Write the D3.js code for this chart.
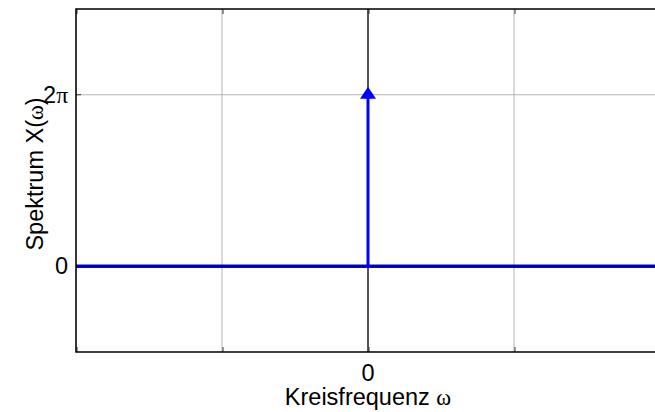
<!DOCTYPE html>
<html><head><meta charset="utf-8">
<script src="https://cdn.jsdelivr.net/npm/d3@7"></script>
<style>body{margin:0;background:#fff}svg{display:block}</style>
</head><body><svg id="c" width="655" height="412"></svg>
<script>
const xDomain = [-2, 2];
const yDomain = [-Math.PI, 3 * Math.PI];
const xTicks = [-2, -1, 0, 1, 2];
const xTickLabels = ["", "", "0", "", ""];
const yTicks = [0, 2 * Math.PI];
const yTickLabels = ["0", "2π"];
const baselineX = [-2, 2];
const baselineY = [0, 0];
const diracPos = [0];
const diracHeight = [2 * Math.PI];

const svg = d3.select("#c");
const L = 76, T = 9, B = 352, R = 660;
const x = d3.scaleLinear().domain(xDomain).range([L, R]);
const y = d3.scaleLinear().domain(yDomain).range([B, T]);
const font = "'Liberation Sans', Arial, sans-serif";
const serif = "'Liberation Serif', 'DejaVu Serif', serif";
const FS = 23.5;

// grid
svg.append("g").selectAll("line").data(xTicks).join("line")
  .attr("x1", d => x(d)).attr("x2", d => x(d)).attr("y1", T).attr("y2", B)
  .attr("stroke", "#b4b4b4").attr("stroke-width", 1);
svg.append("g").selectAll("line").data(yTicks).join("line")
  .attr("x1", L).attr("x2", R).attr("y1", d => y(d)).attr("y2", d => y(d))
  .attr("stroke", "#b4b4b4").attr("stroke-width", 1);

// vertical axis line at omega = 0
svg.append("line").attr("x1", x(0)).attr("x2", x(0)).attr("y1", T).attr("y2", B)
  .attr("stroke", "#555").attr("stroke-width", 2);

// ticks (inward)
const tl = 5;
svg.append("g").selectAll("line").data(xTicks).join("line")
  .attr("x1", d => x(d) + 1).attr("x2", d => x(d) + 1).attr("y1", T).attr("y2", T + tl)
  .attr("stroke", "#333").attr("stroke-width", 1);
svg.append("g").selectAll("line").data(xTicks).join("line")
  .attr("x1", d => x(d) + 1).attr("x2", d => x(d) + 1).attr("y1", B).attr("y2", B - tl)
  .attr("stroke", "#333").attr("stroke-width", 1);
svg.append("g").selectAll("line").data(yTicks).join("line")
  .attr("x1", L).attr("x2", L + tl).attr("y1", d => y(d)).attr("y2", d => y(d))
  .attr("stroke", "#333").attr("stroke-width", 1);

// baseline
const line = d3.line().x(d => x(d[0])).y(d => y(d[1]));
const basePts = baselineX.map((v, i) => [v, baselineY[i]]);
svg.append("path").attr("d", line(basePts)).attr("fill", "none")
  .attr("stroke", "#0000ff").attr("stroke-width", 3.5);
svg.append("path").attr("d", line(basePts)).attr("fill", "none")
  .attr("stroke", "#000070").attr("stroke-width", 1.5);

// dirac stem
svg.append("g").selectAll("line").data(diracPos).join("line")
  .attr("x1", d => x(d)).attr("x2", d => x(d))
  .attr("y1", y(0)).attr("y2", (d, i) => y(diracHeight[i]))
  .attr("stroke", "#0000ff").attr("stroke-width", 3);
svg.append("g").selectAll("path").data(diracPos).join("path")
  .attr("d", (d, i) => {
    const cx = x(d), cy = y(diracHeight[i]) - 1;
    return `M${cx},${cy - 7}L${cx + 8},${cy + 5}L${cx - 8},${cy + 5}Z`;
  }).attr("fill", "#0000ff");

// frame
svg.append("path").attr("d", `M${R},${T}H${L}V${B}H${R}`)
  .attr("fill", "none").attr("stroke", "#000").attr("stroke-width", 1.5);

// tick labels
svg.append("g").selectAll("text").data(xTicks).join("text")
  .attr("x", d => x(d)).attr("y", B + 29).attr("text-anchor", "middle")
  .attr("font-family", font).attr("font-size", FS).text((d, i) => xTickLabels[i]);
const yl = svg.append("g").selectAll("text").data(yTicks).join("text")
  .attr("x", L - 8).attr("y", d => y(d) + 8).attr("text-anchor", "end")
  .attr("font-family", font).attr("font-size", FS);
yl.each(function (d, i) {
  const s = yTickLabels[i];
  const t = d3.select(this);
  if (s.endsWith("π")) {
    t.append("tspan").text(s.slice(0, -1));
    t.append("tspan").attr("font-family", serif).attr("font-size", FS).text("π");
  } else t.text(s);
});

// axis labels
const xl = svg.append("text").attr("x", x(0)).attr("y", 405).attr("text-anchor", "middle")
  .attr("font-family", font).attr("font-size", FS);
xl.append("tspan").text("Kreisfrequenz ");
xl.append("tspan").attr("font-family", serif).attr("font-size", FS - 1).text("ω");

const ylab = svg.append("text").attr("transform", `translate(43,174) rotate(-90)`)
  .attr("text-anchor", "middle").attr("font-family", font).attr("font-size", FS);
ylab.append("tspan").text("Spektrum X(");
ylab.append("tspan").attr("font-family", serif).attr("font-size", FS - 1).text("ω");
ylab.append("tspan").text(")");
</script></body></html>
